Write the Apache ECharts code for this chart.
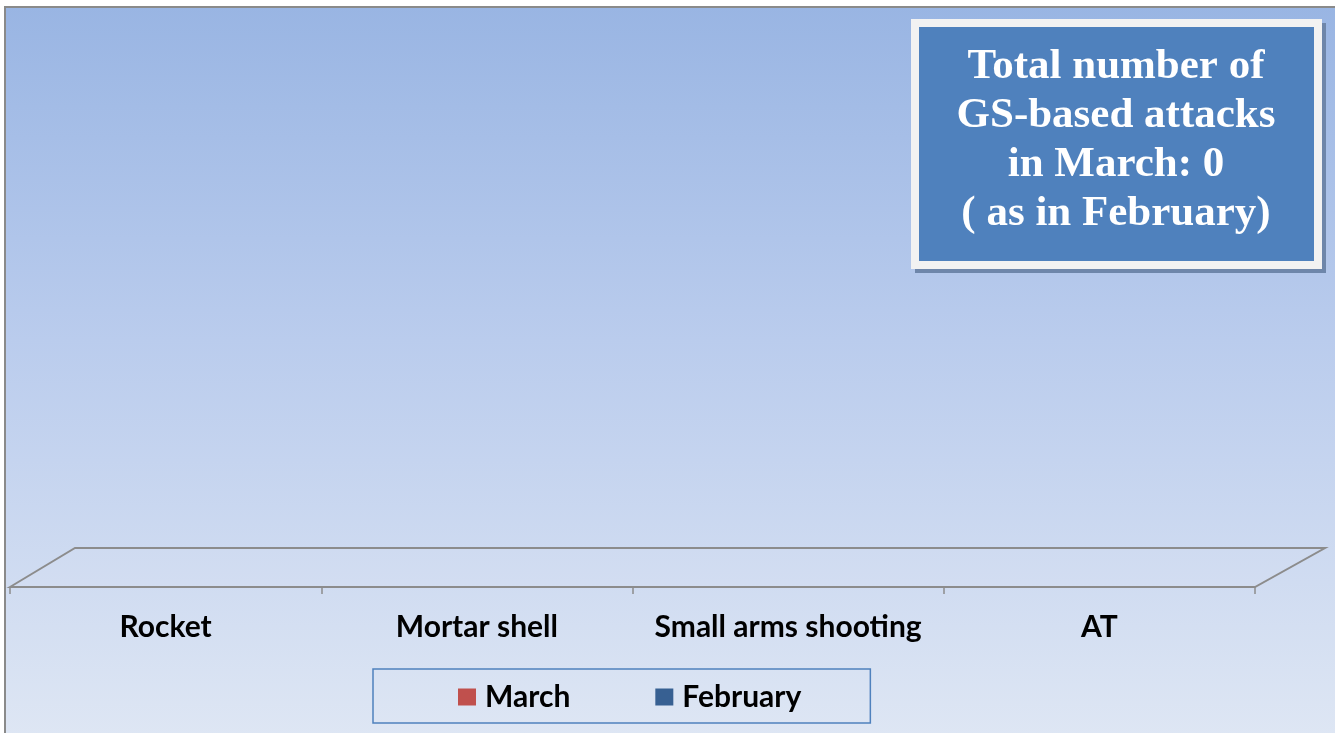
<!DOCTYPE html>
<html>
<head>
<meta charset="utf-8">
<script src="https://cdn.jsdelivr.net/npm/echarts@6/dist/echarts.min.js"></script>
<style>
  html, body { margin: 0; padding: 0; background: #fff; }
  #chart { width: 1335px; height: 733px; }
</style>
</head>
<body>
<div id="chart"></div>
<script>
// categories and values (all attacks were zero)
var categories = ['Rocket', 'Mortar shell', 'Small arms shooting', 'AT'];
var marchValues = [0, 0, 0, 0];
var februaryValues = [0, 0, 0, 0];
var boxLines = ['Total number of', 'GS-based attacks', 'in March: 0', '( as in February)'];

var chart = echarts.init(document.getElementById('chart'));

// floor of the 3D plot, drawn from the grid's coordinate system
function renderFloor(params, api) {
  var cs = params.coordSys;
  var bottom = cs.y + cs.height;
  return {
    type: 'polygon',
    shape: {
      points: [
        [cs.x, bottom],
        [cs.x + 65, bottom - 39],
        [cs.x + cs.width + 70, bottom - 39],
        [cs.x + cs.width, bottom]
      ]
    },
    style: { fill: 'rgba(255,255,255,0.05)', stroke: '#8c8c8c', lineWidth: 2 },
    silent: true
  };
}

var option = {
  backgroundColor: '#ffffff',
  animation: false,
  graphic: [
    {
      type: 'rect', z: -10,
      shape: { x: 5, y: 7, width: 1345, height: 740 },
      style: {
        fill: new echarts.graphic.LinearGradient(0, 0, 0, 1, [
          { offset: 0, color: '#99b5e3' },
          { offset: 0.45, color: '#bacced' },
          { offset: 1, color: '#dfe7f4' }
        ]),
        stroke: '#8a8a8a', lineWidth: 2
      }
    },
    // text box with shadow
    { type: 'rect', shape: { x: 915, y: 23, width: 411, height: 250 }, style: { fill: '#6e86aa' } },
    { type: 'rect', shape: { x: 911, y: 19, width: 411, height: 250 }, style: { fill: '#f2f2f2' } },
    { type: 'rect', shape: { x: 919, y: 27, width: 395, height: 234 }, style: { fill: '#4f81bd' } },
    {
      type: 'text', x: 1116, y: 140,
      style: {
        text: boxLines.join('\n'),
        fill: '#ffffff',
        font: 'bold 43px "Liberation Serif", "Times New Roman", serif',
        lineHeight: 49,
        align: 'center',
        verticalAlign: 'middle'
      }
    }
  ],
  legend: {
    data: ['March', 'February'],
    icon: 'rect',
    left: 373,
    top: 669,
    padding: [13, 69, 11, 85],
    itemGap: 85,
    itemWidth: 18,
    itemHeight: 17,
    itemStyle: { borderWidth: 0 },
    borderColor: '#4f81bd',
    borderWidth: 1.5,
    textStyle: { fontFamily: 'Lato', fontWeight: 'bold', fontSize: 30, color: '#000', padding: [0, 0, 0, 4] }
  },
  grid: { left: 10, right: 80, top: 60, bottom: 146 },
  xAxis: {
    type: 'category',
    data: categories,
    axisLine: { show: false },
    axisTick: { show: true, interval: 0, length: 7, lineStyle: { color: '#8c8c8c', width: 1.5 } },
    axisLabel: { interval: 0, margin: 25, color: '#000', fontFamily: 'Lato', fontWeight: 'bold', fontSize: 30 }
  },
  yAxis: {
    type: 'value', min: 0, max: 10, show: false, splitLine: { show: false }
  },
  series: [
    { type: 'custom', renderItem: renderFloor, data: [0], clip: false, silent: true, z: 1 },
    { name: 'March', type: 'bar', data: marchValues, itemStyle: { color: '#c0504d' } },
    { name: 'February', type: 'bar', data: februaryValues, itemStyle: { color: '#376092' } }
  ]
};

chart.setOption(option);
</script>
</body>
</html>
